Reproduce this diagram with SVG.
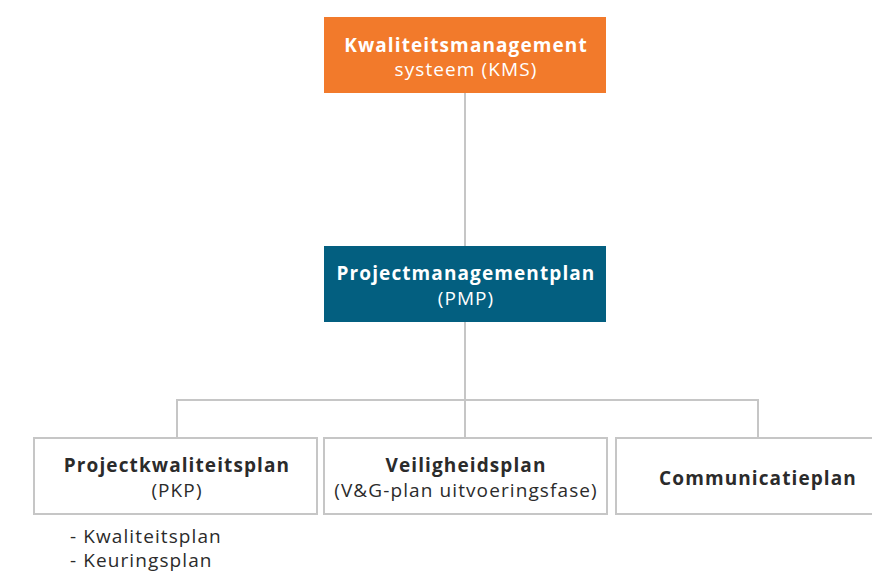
<svg xmlns="http://www.w3.org/2000/svg" width="872" height="574" viewBox="0 0 872 574">
  <style>
    .lbl { font-family: "Open Sans", "Liberation Sans", sans-serif; font-size: 19px; letter-spacing: 1.1px; text-anchor: middle; }
    .b { font-weight: 700; }
    .light { fill: #ffffff; }
    .dark { fill: #2b2b2b; }
    .plain { fill: #ffffff; stroke: #c6c6c6; stroke-width: 2; }
    .wire { fill: none; stroke: #c6c6c6; stroke-width: 2; }
  </style>
  <rect width="872" height="574" fill="#ffffff"/>
  <g id="connectors">
    <line class="wire" x1="465" y1="93" x2="465" y2="246"/>
    <line class="wire" x1="465" y1="322" x2="465" y2="438"/>
    <polyline class="wire" points="177,438 177,400 758,400 758,438"/>
  </g>
  <g id="kms">
    <rect x="324" y="17" width="282" height="76" fill="#f27a2b"/>
    <text class="lbl b light" x="466" y="52">Kwaliteitsmanagement</text>
    <text class="lbl light" x="466" y="76">systeem (KMS)</text>
  </g>
  <g id="pmp">
    <rect x="324" y="246" width="282" height="76" fill="#035f80"/>
    <text class="lbl b light" x="466" y="280">Projectmanagementplan</text>
    <text class="lbl light" x="466" y="305">(PMP)</text>
  </g>
  <g id="pkp">
    <rect class="plain" x="34" y="438" width="283" height="76"/>
    <text class="lbl b dark" x="177" y="472">Projectkwaliteitsplan</text>
    <text class="lbl dark" x="177" y="497">(PKP)</text>
    <text class="lbl dark" x="70" y="543" style="text-anchor:start">- Kwaliteitsplan</text>
    <text class="lbl dark" x="70" y="567" style="text-anchor:start">- Keuringsplan</text>
  </g>
  <g id="vg">
    <rect class="plain" x="324" y="438" width="283" height="76"/>
    <text class="lbl b dark" x="466" y="472">Veiligheidsplan</text>
    <text class="lbl dark" x="466" y="497">(V&amp;G-plan uitvoeringsfase)</text>
  </g>
  <g id="comm">
    <rect class="plain" x="616" y="438" width="262" height="76"/>
    <text class="lbl b dark" x="758" y="485">Communicatieplan</text>
  </g>
</svg>
